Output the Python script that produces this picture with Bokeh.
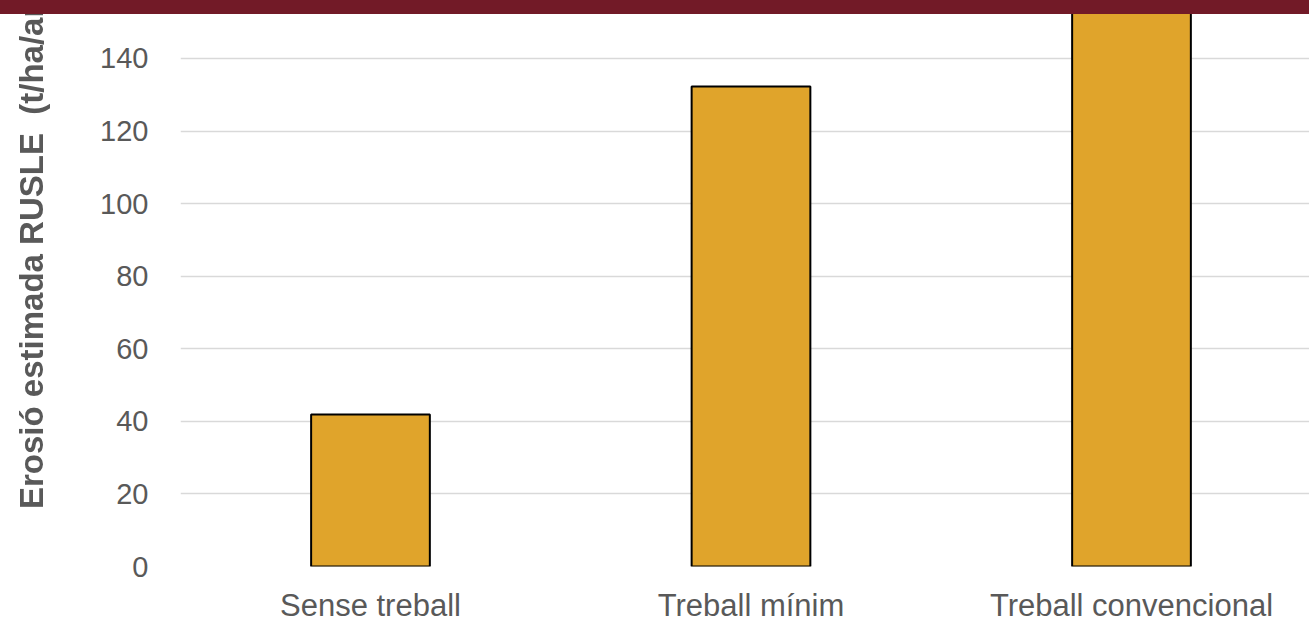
from bokeh.plotting import figure
from bokeh.models import Range1d, FixedTicker, ColumnDataSource, Div
from bokeh.embed import file_html
from bokeh.resources import INLINE

categories = ["Sense treball", "Treball mínim", "Treball convencional"]
erosion = [41.9, 132.3, 165.0]
y_ticks = [0, 20, 40, 60, 80, 100, 120, 140]
y_label = "Erosió estimada RUSLE  (t/ha/any)"

positions = list(range(len(categories)))
src = ColumnDataSource(dict(x=positions, top=erosion))

p = figure(width=1309, height=627, output_backend="svg", toolbar_location=None,
           x_range=Range1d(-0.4993, 2.4678), y_range=Range1d(0, 155.98),
           min_border_left=180, min_border_right=0, min_border_top=0, min_border_bottom=61,
           outline_line_color=None, background_fill_color="white", border_fill_color="white")

p.vbar(x="x", top="top", width=0.312, bottom=0, source=src,
       fill_color="#E0A42B", line_color="black", line_width=2)

font = "Liberation Sans"
p.yaxis.ticker = FixedTicker(ticks=y_ticks)
p.xaxis.ticker = FixedTicker(ticks=positions)
p.xaxis.major_label_overrides = {i: c for i, c in enumerate(categories)}
for ax in (p.xaxis, p.yaxis):
    ax.axis_line_color = None
    ax.major_tick_line_color = None
    ax.minor_tick_line_color = None
    ax.major_label_text_font = font
    ax.major_label_text_color = "#595959"
p.yaxis.major_label_text_font_size = "29px"
p.xaxis.major_label_text_font_size = "31px"
p.yaxis.major_label_standoff = 26
p.xaxis.major_label_standoff = 15

p.xgrid.visible = False
p.ygrid.ticker = FixedTicker(ticks=y_ticks)
p.ygrid.grid_line_color = "#D9D9D9"
p.ygrid.grid_line_width = 1.5
p.ygrid.level = "underlay"

# rotated y-axis title (cut off at the top by the band, as in the original)
ylab = Div(text=y_label, width=600, height=38, margin=(0, 0, 0, 0),
           styles={"position": "fixed", "left": "13px", "top": "509px", "margin": "0px",
                   "width": "600px", "height": "38px", "line-height": "38px",
                   "transform": "rotate(-90deg)", "transform-origin": "0 0",
                   "font-family": "Liberation Sans", "font-weight": "bold",
                   "font-size": "33px", "color": "#595959", "white-space": "pre",
                   "z-index": "50"})

# dark red band across the top, drawn over the chart
band = Div(text="", width=1309, height=14, margin=(0, 0, 0, 0),
           styles={"position": "fixed", "top": "0px", "left": "0px", "margin": "0px",
                   "width": "1309px", "height": "14px",
                   "background-color": "#721A27", "z-index": "100"})

open("out.html", "w").write(file_html([p, ylab, band], INLINE))
